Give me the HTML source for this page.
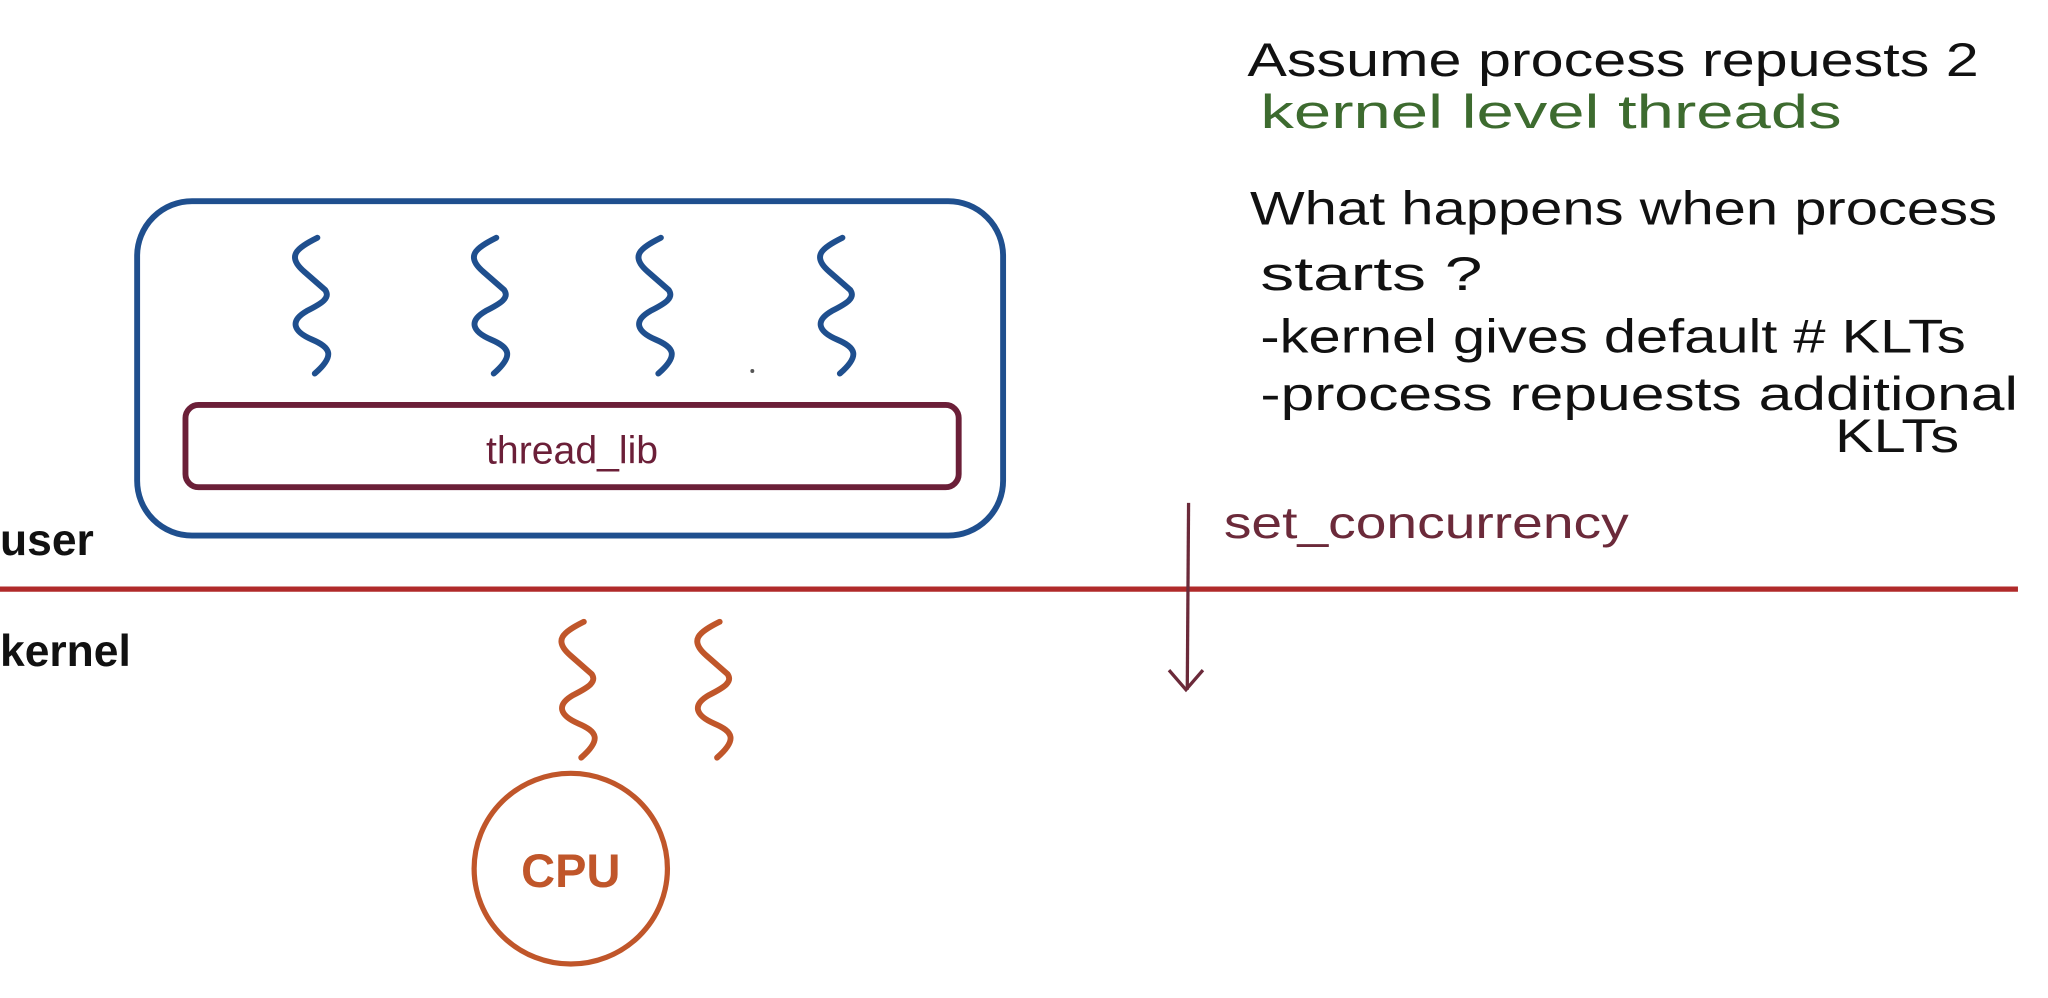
<!DOCTYPE html>
<html><head><meta charset="utf-8"><style>
html,body{margin:0;padding:0;background:#fff;width:2048px;height:998px;overflow:hidden}
svg{display:block}
text{font-family:"Liberation Sans",sans-serif}
</style></head><body>
<svg width="2048" height="998" viewBox="0 0 1568 764" preserveAspectRatio="none" xmlns="http://www.w3.org/2000/svg">
<defs>
<path id="sq" d="M0 0 C-16 8,-24 14,-10 26 L6 40 C10 46,4 50,-8 56 C-22 64,-18 72,-4 78 C10 84,14 90,-2 104" fill="none" stroke-width="4.5" stroke-linecap="round"/>
</defs>
<rect x="105" y="154" width="663" height="256" rx="42" fill="none" stroke="#1f4f8e" stroke-width="4.5"/>
<g stroke="#1f4f8e">
<use href="#sq" x="243" y="182"/><use href="#sq" x="380" y="182"/><use href="#sq" x="506" y="182"/><use href="#sq" x="645" y="182"/>
</g>
<circle cx="576" cy="284" r="1.5" fill="#555"/>
<rect x="142" y="310" width="592" height="63" rx="10" fill="none" stroke="#6b1f38" stroke-width="4.5"/>
<text x="438" y="355" font-size="30" fill="#6b1f38" text-anchor="middle">thread_lib</text>
<text x="0" y="425" font-size="34" font-weight="bold" fill="#111">user</text>
<text x="0" y="510" font-size="34" font-weight="bold" fill="#111">kernel</text>
<line x1="0" y1="451" x2="1545" y2="451" stroke="#b02a2a" stroke-width="4"/>
<line x1="910" y1="385" x2="909" y2="528" stroke="#6b2a3a" stroke-width="2.5"/>
<path d="M895 513 L908 528 L921 513" fill="none" stroke="#6b2a3a" stroke-width="2.5"/>
<text x="937" y="412" font-size="34" fill="#6b2a3a" textLength="310" lengthAdjust="spacingAndGlyphs">set_concurrency</text>
<g stroke="#c0562a">
<use href="#sq" x="447" y="476"/><use href="#sq" x="551" y="476"/>
</g>
<ellipse cx="437" cy="665" rx="74" ry="73" fill="none" stroke="#c0562a" stroke-width="4"/>
<text x="437" y="679" font-size="36" font-weight="bold" fill="#c0562a" text-anchor="middle">CPU</text>
<g font-size="36" fill="#111">
<text x="955" y="58" textLength="560" lengthAdjust="spacingAndGlyphs">Assume process repuests 2</text>
<text x="965" y="98" fill="#3d6b2f" textLength="445" lengthAdjust="spacingAndGlyphs">kernel level threads</text>
<text x="957" y="172" textLength="572" lengthAdjust="spacingAndGlyphs">What happens when process</text>
<text x="965" y="222" textLength="170" lengthAdjust="spacingAndGlyphs">starts ?</text>
<text x="965" y="270" textLength="540" lengthAdjust="spacingAndGlyphs">-kernel gives default # KLTs</text>
<text x="965" y="314" textLength="580" lengthAdjust="spacingAndGlyphs">-process repuests additional</text>
<text x="1405" y="346" textLength="95" lengthAdjust="spacingAndGlyphs">KLTs</text>
</g>
</svg>
</body></html>
